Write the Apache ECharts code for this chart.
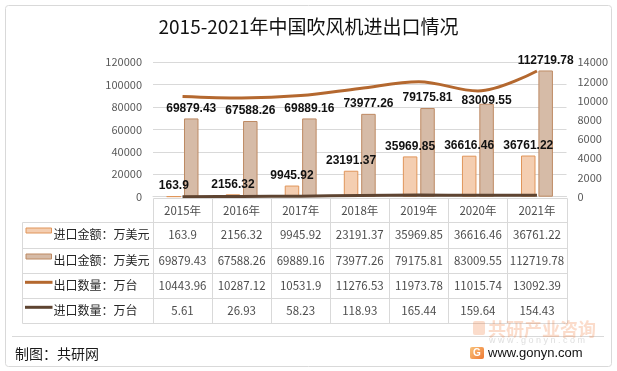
<!DOCTYPE html>
<html><head><meta charset="utf-8">
<script src="https://cdn.jsdelivr.net/npm/echarts@6/dist/echarts.min.js"></script>
<style>html,body{margin:0;padding:0;background:#fff}#c{width:617px;height:371px}</style>
</head><body><div id="c"></div>
<script>
const years = ['2015年','2016年','2017年','2018年','2019年','2020年','2021年'];
const importValue = [163.9, 2156.32, 9945.92, 23191.37, 35969.85, 36616.46, 36761.22];
const exportValue = [69879.43, 67588.26, 69889.16, 73977.26, 79175.81, 83009.55, 112719.78];
const exportQty = [10443.96, 10287.12, 10531.9, 11276.53, 11973.78, 11015.74, 13092.39];
const importQty = [5.61, 26.93, 58.23, 118.93, 165.44, 159.64, 154.43];
const seriesNames = ['进口金额：万美元','出口金额：万美元','出口数量：万台','进口数量：万台'];
const titleText = '2015-2021年中国吹风机进出口情况';
const footerText = '制图：共研网';
const siteText = 'www.gonyn.com';
const brandText = '共研产业咨询';

const C_IMP = '#F4CEB1', C_IMP_B = '#E0955A';
const C_EXP = '#D6BBA7', C_EXP_B = '#BE8A63';
const C_EQ = '#B4682F', C_IQ = '#5E4431';
const CJK = '"Noto Sans CJK SC", "Microsoft YaHei", sans-serif';
const GRID = '#d9d9d9';

const chart = echarts.init(document.getElementById('c'), null, {renderer:'canvas', width:617, height:371});
const labelStyle = {show:true, position:'top', distance:4, color:'#111', fontWeight:'bold', fontSize:12, fontFamily:'"Liberation Sans", Arial, sans-serif'};
const plain = v => String(v);

// the 2020 export label sits lower in the reference
const exportData = exportValue.map((v,i) => i === 5 ? {value:v, label:{offset:[0,7]}} : v);

chart.setOption({
  animation:false,
  grid:{left:153, right:50.5, top:62.3, bottom:174.3, containLabel:false},
  xAxis:{type:'category', data:years, axisLabel:{show:false}, axisTick:{show:false},
         axisLine:{show:true, lineStyle:{color:GRID}}},
  yAxis:[
    {type:'value', min:0, max:120000, interval:20000,
     axisLabel:{color:'#595959', fontSize:11, fontFamily:CJK, margin:11, formatter:plain},
     splitLine:{show:true, lineStyle:{color:GRID}}, axisLine:{show:false}, axisTick:{show:false}},
    {type:'value', min:0, max:14000, interval:2000,
     axisLabel:{color:'#595959', fontSize:11, fontFamily:CJK, margin:11, formatter:plain},
     splitLine:{show:false}, axisLine:{show:false}, axisTick:{show:false}}
  ],
  series:[
    {name:seriesNames[0], type:'bar', data:importValue, barWidth:14.5, barGap:'20%',
     itemStyle:{color:C_IMP, borderColor:C_IMP_B, borderWidth:1}, label:labelStyle},
    {name:seriesNames[1], type:'bar', data:exportData, barWidth:14.5, barGap:'20%',
     itemStyle:{color:C_EXP, borderColor:C_EXP_B, borderWidth:1}, label:labelStyle},
    {name:seriesNames[2], type:'line', yAxisIndex:1, data:exportQty, smooth:0.35, symbol:'none',
     lineStyle:{color:C_EQ, width:3}, z:3},
    {name:seriesNames[3], type:'line', yAxisIndex:1, data:importQty, smooth:0.35, symbol:'none',
     lineStyle:{color:C_IQ, width:3}, z:3}
  ]
});

// ---- data table & decorations ----
const c0 = chart.convertToPixel({xAxisIndex:0}, 0);
const c1 = chart.convertToPixel({xAxisIndex:0}, 1);
const band = c1 - c0;
const x0 = c0 - band/2;
const xEnd = x0 + band*years.length;
const tableLeft = 21.5;
const rowLines = [198.3, 222.3, 248.3, 273.3, 298.3, 323.3];
const rowCenters = [234.5, 260.5, 285.8, 310.8];
const px = v => Math.round(v) + 0.5;
const g = [];
const line = (x1,y1,x2,y2,color,w) => g.push({type:'line', silent:true, shape:{x1,y1,x2,y2}, style:{stroke:color||GRID, lineWidth:w||1}});

// outer border
g.push({type:'rect', silent:true, shape:{x:5.5, y:5.5, width:606, height:361, r:3}, style:{fill:null, stroke:GRID, lineWidth:1}});

// table lines
line(px(x0), px(rowLines[0]), px(xEnd), px(rowLines[0]));
for (let r=1; r<rowLines.length; r++) line(px(tableLeft), px(rowLines[r]), px(xEnd), px(rowLines[r]));
for (let i=0; i<=years.length; i++) line(px(x0+i*band), px(rowLines[0]), px(x0+i*band), px(rowLines[5]));
line(px(tableLeft), px(rowLines[1]), px(tableLeft), px(rowLines[5]));

const txt = (text,x,y,opt) => g.push({type:'text', silent:true, x, y, style:Object.assign({text, fill:'#4d4d4d', align:'center', verticalAlign:'middle', font:'11.5px '+CJK}, opt||{})});

// header
years.forEach((yr,i) => txt(yr, x0+(i+0.5)*band, 211));
// values
const rowsData = [importValue, exportValue, exportQty, importQty];
rowsData.forEach((arr,r) => arr.forEach((v,i) => txt(String(v), x0+(i+0.5)*band, rowCenters[r])));
// row labels
seriesNames.forEach((nm,r) => txt(nm, 53.5, rowCenters[r], {align:'left', font:'12px '+CJK, fill:'#262626'}));
// legend keys
g.push({type:'rect', silent:true, shape:{x:26, y:rowCenters[0]-6.5, width:25.5, height:5}, style:{fill:C_IMP, stroke:C_IMP_B, lineWidth:1}});
g.push({type:'rect', silent:true, shape:{x:26, y:rowCenters[1]-6.5, width:25.5, height:5}, style:{fill:C_EXP, stroke:C_EXP_B, lineWidth:1}});
line(25, rowCenters[2]-3.5, 52.5, rowCenters[2]-3.5, C_EQ, 3);
line(25, rowCenters[3]-3.5, 52.5, rowCenters[3]-3.5, C_IQ, 3);

// title
txt(titleText, 308.5, 26.5, {font:'19px '+CJK, fill:'#111'});

// footer
line(12, 336.5, 604, 336.5);
txt(footerText, 15, 354, {align:'left', font:'14px '+CJK, fill:'#1a1a1a'});

// brand watermark bottom right
txt(brandText, 542, 329, {font:'bold 18px '+CJK, fill:'rgba(240,130,70,0.28)'});
g.push({type:'rect', silent:true, shape:{x:473, y:321, width:12, height:14, r:2}, style:{fill:'rgba(240,130,70,0.28)'}});
txt('w w w . g o n y n . c o m', 537, 341, {font:'9px "Liberation Sans", Arial, sans-serif', fill:'rgba(200,200,200,0.6)'});
// logo + site
g.push({type:'rect', silent:true, shape:{x:470, y:347, width:14, height:12, r:2},
  style:{fill:new echarts.graphic.LinearGradient(0,0,1,1,[{offset:0,color:'#F9C27A'},{offset:1,color:'#EE7A34'}])}});
txt('G', 477, 353.3, {font:'bold 10px "Liberation Sans", Arial, sans-serif', fill:'#fff'});
txt(siteText, 488, 353.3, {align:'left', font:'13px "Liberation Sans", Arial, sans-serif', fill:'#111'});

chart.setOption({graphic:{elements:g}});
</script></body></html>
